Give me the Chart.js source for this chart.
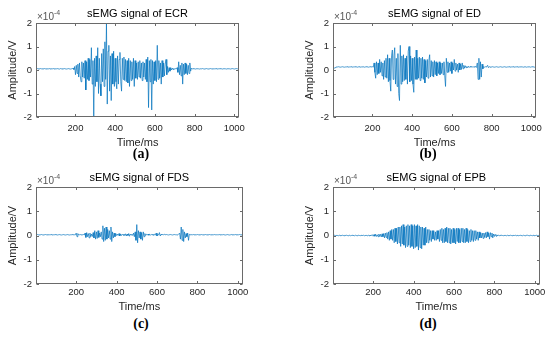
<!DOCTYPE html>
<html lang="en">

<head>
    <meta charset="UTF-8">
    <title>sEMG signals</title>
    <script src="https://cdn.jsdelivr.net/npm/chart.js@4.4.0/dist/chart.umd.min.js"></script>
    <style>
        body {
            margin: 0;
            width: 550px;
            height: 337px;
            background: #fff;
            position: relative;
            overflow: hidden;
        }

        .panel {
            position: absolute;
        }

        .caption {
            position: absolute;
            width: 60px;
            text-align: center;
            font: bold 14px "Liberation Serif", "DejaVu Serif", serif;
            color: #000;
        }
    </style>
</head>

<body>
    <div class="panel" style="left:0px;top:0px"><canvas id="chartA" width="251" height="151"></canvas></div>
    <div class="panel" style="left:297px;top:0px"><canvas id="chartB" width="251" height="151"></canvas></div>
    <div class="panel" style="left:0px;top:164px"><canvas id="chartC" width="251" height="151"></canvas></div>
    <div class="panel" style="left:297px;top:164px"><canvas id="chartD" width="251" height="151"></canvas></div>
    <div class="caption" style="left:111px;top:146px">(a)</div>
    <div class="caption" style="left:398px;top:146px">(b)</div>
    <div class="caption" style="left:111px;top:316px">(c)</div>
    <div class="caption" style="left:398px;top:316px">(d)</div>
    <script>
        // sample spacing of the recordings (ms)
        const sampleStep = 4;

        // tick labels
        const xTickValues = [200, 400, 600, 800, 1000];
        const yTickValues = [-2, -1, 0, 1, 2];

        // panel titles
        const titles = ['sEMG signal of ECR', 'sEMG signal of ED', 'sEMG signal of FDS', 'sEMG signal of EPB'];

        // amplitudes in units of 1e-4 V, one value every 4 ms
        const ecr = [
            0.05, 0.06, 0.05, 0.04, 0.05, 0.06, 0.05, 0.05, 0.04, 0.05, 0.06, 0.05, 0.05, 0.04, 0.05, 0.05,
            0.06, 0.05, 0.04, 0.05, 0.05, 0.06, 0.05, 0.04, 0.05, 0.05, 0.06, 0.05, 0.05, 0.04, 0.06, 0.05,
            0.05, 0.04, 0.05, 0.06, 0.05, 0.05, 0.04, 0.05, 0.06, 0.05, 0.05, 0.04, 0.05, 0.06, 0.08, 0.02,
            0.15, -0.2, 0.2, -0.15, 0.25, -0.3, 0.3, -0.25, -0.5, 0.35, -0.3, 0.3, -0.35, 0.4, -0.85, 0.35,
            -0.4, 0.5, -0.45, 0.45, -0.3, 0.95, -0.6, 0.4, -2.0, 0.5, -0.7, 0.6, -0.5, 0.95, -1.0, 0.5,
            -0.6, -1.1, 0.7, -0.5, 0.9, -0.7, 1.2, -0.4, 2.0, -1.45, 0.8, 1.05, -0.9, 0.6, -1.3, 0.7,
            -0.6, 0.8, -0.7, 0.5, -0.5, -0.8, 0.6, -0.6, 0.45, 0.75, -0.5, -0.9, 0.5, -0.4, 0.55, -0.45,
            0.45, -0.5, 0.4, -0.55, 0.5, -0.7, 0.4, -0.45, 0.35, -0.4, 0.5, -0.7, 0.4, -0.35, 0.3, -0.4,
            0.35, -0.3, 0.4, -0.35, 0.3, -0.45, 0.35, -0.3, 0.3, -0.4, 0.45, -0.5, 0.55, -1.6, 0.4, -0.5,
            0.45, -1.7, 0.4, -0.6, 0.35, -0.45, 0.4, -0.5, 1.05, -0.4, 0.4, -0.35, 0.3, -0.6, 0.4, -0.3,
            0.3, -0.25, 0.25, 0.45, -0.2, 0.15, -0.1, 0.1, -0.05, 0.1, 0.0, 0.08, 0.02, 0.07, 0.03, 0.06,
            0.05, 0.1, -0.1, 0.35, -0.2, 0.2, -0.25, 0.3, -0.6, 0.25, -0.2, 0.3, -0.15, 0.25, -0.2, 0.2,
            -0.15, 0.3, -0.05, 0.08, 0.04, 0.06, 0.05, 0.05, 0.04, 0.05, 0.06, 0.05, 0.05, 0.04, 0.05, 0.05,
            0.05, 0.06, 0.05, 0.04, 0.05, 0.05, 0.06, 0.05, 0.04, 0.05, 0.05, 0.06, 0.05, 0.05, 0.04, 0.05,
            0.05, 0.05, 0.06, 0.05, 0.04, 0.05, 0.05, 0.06, 0.05, 0.05, 0.04, 0.05, 0.06, 0.05, 0.05, 0.04,
            0.05, 0.06, 0.05, 0.05, 0.04, 0.05, 0.05, 0.06, 0.05, 0.04, 0.05, 0.05, 0.06, 0.05, 0.05, 0.05
        ];

        const ed = [
            0.05, 0.08, 0.1, 0.12, 0.13, 0.13, 0.14, 0.13, 0.13, 0.12, 0.13, 0.14, 0.13, 0.13, 0.12, 0.13,
            0.13, 0.14, 0.13, 0.12, 0.13, 0.13, 0.14, 0.13, 0.12, 0.13, 0.13, 0.14, 0.13, 0.13, 0.12, 0.13,
            0.14, 0.13, 0.12, 0.13, 0.13, 0.14, 0.13, 0.12, 0.13, 0.14, 0.13, 0.13, 0.12, 0.13, 0.14, 0.13,
            0.13, 0.14, 0.12, 0.3, -0.1, -0.35, 0.35, -0.2, 0.3, -0.15, 0.45, -0.1, 0.35, -0.25, 0.3, -0.4,
            0.4, -0.3, 0.5, -0.35, 0.65, -0.5, 0.5, -0.45, -0.9, 0.6, 0.85, -0.4, 0.6, 0.95, -0.6, 0.5,
            -0.7, 0.7, -1.0, -1.3, 1.05, -0.6, 0.6, -0.5, 0.65, -0.45, 0.5, -0.4, 0.6, -0.6, 0.8, 1.0,
            -0.5, 0.6, -0.45, 0.5, -0.6, -0.95, 0.55, -0.4, 0.85, -0.4, 0.5, -0.35, 0.55, -0.45, 0.5, -0.35,
            0.55, -0.4, 0.45, -0.55, 0.4, -0.3, 0.45, -0.35, 0.4, 0.65, -0.3, 0.4, -0.25, 0.35, -0.3, 0.4,
            -0.2, 0.35, -0.25, 0.3, -0.15, 0.35, -0.2, 0.3, -0.15, 0.3, -0.2, 0.35, -0.25, -0.7, 0.5, -0.1,
            0.35, -0.1, 0.3, -0.05, 0.35, -0.15, 0.3, 0.0, 0.45, -0.05, 0.3, 0.0, 0.25, -0.1, 0.3, 0.0,
            0.25, 0.02, 0.3, 0.05, 0.2, 0.08, 0.18, 0.1, 0.15, 0.1, 0.16, 0.11, 0.15, 0.12, 0.14, 0.13,
            0.13, 0.14, 0.12, 0.15, 0.11, 0.3, -0.4, 0.5, -0.4, 0.35, -0.3, 0.25, 0.05, 0.15, 0.12, 0.14,
            0.13, 0.16, 0.2, 0.1, 0.14, 0.13, 0.12, 0.13, 0.14, 0.13, 0.13, 0.12, 0.13, 0.14, 0.13, 0.13,
            0.12, 0.13, 0.14, 0.13, 0.13, 0.12, 0.13, 0.14, 0.13, 0.13, 0.12, 0.13, 0.13, 0.14, 0.13, 0.12,
            0.13, 0.13, 0.14, 0.13, 0.12, 0.13, 0.13, 0.14, 0.13, 0.12, 0.13, 0.13, 0.14, 0.13, 0.13, 0.12,
            0.13, 0.14, 0.13, 0.12, 0.13, 0.13, 0.14, 0.13, 0.12, 0.13, 0.14, 0.13, 0.13, 0.12, 0.13, 0.13
        ];

        const fds = [
            0.03, 0.04, 0.03, 0.02, 0.03, 0.03, 0.04, 0.03, 0.02, 0.03, 0.03, 0.04, 0.03, 0.03, 0.02, 0.03,
            0.03, 0.03, 0.04, 0.03, 0.02, 0.03, 0.03, 0.04, 0.03, 0.03, 0.02, 0.03, 0.04, 0.03, 0.03, 0.02,
            0.03, 0.04, 0.03, 0.03, 0.02, 0.03, 0.04, 0.03, 0.03, 0.02, 0.03, 0.03, 0.04, 0.03, 0.03, 0.03,
            0.03, 0.1, -0.05, 0.08, 0.02, 0.03, 0.04, 0.03, 0.02, 0.03, 0.04, 0.02, 0.1, -0.08, 0.12, -0.05,
            0.08, -0.1, 0.1, -0.05, 0.06, -0.04, 0.12, -0.1, 0.2, -0.15, 0.15, -0.12, 0.2, -0.08, 0.1, -0.05,
            0.15, -0.15, 0.4, -0.25, 0.3, -0.2, 0.35, -0.15, 0.25, -0.1, 0.2, -0.15, 0.35, -0.25, 0.15, -0.1,
            0.1, -0.05, 0.08, 0.0, 0.06, 0.0, 0.08, -0.02, 0.06, 0.0, 0.05, 0.01, 0.06, 0.0, 0.07, -0.02,
            0.06, 0.0, 0.08, -0.03, 0.06, 0.02, 0.05, 0.0, 0.1, -0.05, 0.15, -0.2, 0.45, -0.3, 0.2, -0.1,
            0.15, -0.15, 0.12, -0.2, 0.15, -0.05, 0.08, 0.0, 0.05, 0.02, 0.06, 0.01, 0.05, 0.02, 0.04, 0.03,
            0.06, 0.0, 0.05, 0.02, 0.1, -0.02, 0.05, 0.02, 0.12, -0.02, 0.05, 0.03, 0.04, 0.03, 0.05, 0.03,
            0.03, 0.04, 0.03, 0.02, 0.03, 0.03, 0.04, 0.03, 0.02, 0.03, 0.03, 0.04, 0.03, 0.03, 0.02, 0.03,
            0.03, 0.1, -0.15, 0.35, -0.2, 0.25, -0.25, 0.15, -0.1, 0.08, -0.05, 0.1, -0.2, 0.05, 0.03, 0.04,
            0.03, 0.03, 0.04, 0.03, 0.02, 0.03, 0.03, 0.04, 0.03, 0.03, 0.02, 0.03, 0.04, 0.03, 0.03, 0.02,
            0.03, 0.04, 0.03, 0.03, 0.02, 0.03, 0.04, 0.03, 0.03, 0.02, 0.03, 0.03, 0.04, 0.03, 0.03, 0.03,
            0.03, 0.03, 0.04, 0.03, 0.02, 0.03, 0.03, 0.04, 0.03, 0.03, 0.02, 0.03, 0.04, 0.03, 0.03, 0.02,
            0.03, 0.04, 0.03, 0.02, 0.03, 0.03, 0.04, 0.03, 0.02, 0.03, 0.03, 0.04, 0.03, 0.03, 0.02, 0.03
        ];

        const epb = [
            0.0, 0.01, -0.01, 0.0, 0.01, 0.0, -0.01, 0.01, 0.0, -0.01, 0.0, 0.01, 0.0, -0.01, 0.01, 0.0,
            0.01, 0.0, -0.01, 0.0, 0.01, -0.01, 0.0, 0.01, 0.0, 0.0, -0.01, 0.01, 0.0, -0.01, 0.0, 0.01,
            0.0, -0.01, 0.01, 0.0, 0.0, 0.01, -0.01, 0.0, 0.01, 0.0, -0.02, 0.02, -0.01, 0.02, -0.02, 0.02,
            0.03, -0.03, 0.04, -0.03, 0.05, -0.04, 0.03, -0.05, 0.06, -0.04, 0.05, -0.06, 0.07, -0.05, 0.08, -0.1,
            0.1, -0.08, 0.12, -0.15, 0.15, -0.2, 0.2, -0.15, 0.25, -0.2, 0.25, -0.3, 0.3, -0.25, 0.3, -0.35,
            0.35, -0.3, 0.35, -0.45, 0.4, -0.35, 0.45, -0.4, 0.35, -0.5, 0.4, -0.45, 0.45, -0.4, 0.4, -0.5,
            0.45, -0.45, 0.4, -0.55, 0.45, -0.5, 0.4, -0.45, 0.45, -0.6, 0.4, -0.5, 0.35, -0.55, 0.35, -0.4,
            0.3, -0.4, 0.35, -0.3, 0.25, -0.3, 0.25, -0.2, 0.2, -0.25, 0.2, -0.15, 0.2, -0.2, 0.15, -0.2,
            0.2, -0.15, 0.2, -0.25, 0.25, -0.2, 0.3, -0.3, 0.25, -0.3, 0.3, -0.25, 0.35, -0.3, 0.3, -0.3,
            0.3, -0.35, 0.25, -0.3, 0.3, -0.3, 0.25, -0.35, 0.3, -0.25, 0.3, -0.3, 0.25, -0.3, 0.3, -0.25,
            0.3, -0.3, 0.25, -0.3, 0.3, -0.25, 0.25, -0.3, 0.2, -0.25, 0.25, -0.2, 0.2, -0.25, 0.2, -0.2,
            0.2, -0.15, 0.15, -0.2, 0.15, -0.1, 0.12, -0.1, 0.1, -0.12, 0.1, -0.08, 0.12, -0.1, 0.15, -0.05,
            0.1, -0.15, 0.12, -0.05, 0.1, -0.1, 0.06, -0.04, 0.05, -0.03, 0.03, -0.02, 0.02, -0.01, 0.01, 0.0,
            0.01, 0.0, -0.01, 0.0, 0.01, 0.0, -0.01, 0.01, 0.0, -0.01, 0.0, 0.01, 0.0, -0.01, 0.01, 0.0,
            0.0, 0.01, -0.01, 0.0, 0.01, -0.01, 0.0, 0.01, 0.0, 0.0, -0.01, 0.01, 0.0, -0.01, 0.0, 0.01,
            0.01, 0.0, -0.01, 0.0, 0.01, 0.0, -0.01, 0.01, 0.0, -0.01, 0.0, 0.01, 0.0, -0.01, 0.01, 0.0
        ];

        const FONT = '"Liberation Sans", Arial, Helvetica, sans-serif';
        const TEXT = '#262626';
        const LINE = '#0072BD';

        // MATLAB-style box, inward ticks, title and the x10^-4 exponent
        const matlabAxes = {
            id: 'matlabAxes',
            afterDraw(chart, args, opts) {
                const { ctx, chartArea: a, scales } = chart;
                ctx.save();
                ctx.strokeStyle = '#6a6a6a';
                ctx.lineWidth = 1;
                const L = Math.round(a.left) + 0.5, R = Math.round(a.right) - 0.5;
                const T = Math.round(a.top) + 0.5, B = Math.round(a.bottom) - 0.5;
                ctx.strokeRect(L, T, R - L, B - T);
                ctx.beginPath();
                xTickValues.forEach(v => {
                    const x = Math.round(scales.x.getPixelForValue(v)) + 0.5;
                    ctx.moveTo(x, B); ctx.lineTo(x, B - 2.5);
                    ctx.moveTo(x, T); ctx.lineTo(x, T + 2.5);
                });
                yTickValues.forEach(v => {
                    const y = Math.round(scales.y.getPixelForValue(v)) + 0.5;
                    ctx.moveTo(L, y); ctx.lineTo(L + 2.5, y);
                    ctx.moveTo(R, y); ctx.lineTo(R - 2.5, y);
                });
                ctx.stroke();

                ctx.fillStyle = '#000';
                ctx.textAlign = 'center';
                ctx.textBaseline = 'middle';
                ctx.font = '11px ' + FONT;
                ctx.fillText(opts.title, (a.left + a.right) / 2, a.top - 9);

                ctx.fillStyle = '#555';
                ctx.textAlign = 'left';
                ctx.font = '10px ' + FONT;
                ctx.fillText('\u00d710', a.left + 1, a.top - 5.5);
                const w = ctx.measureText('\u00d710').width;
                ctx.font = '7px ' + FONT;
                ctx.fillText('-4', a.left + 1 + w, a.top - 9.5);
                ctx.restore();
            }
        };

        // row: 0 = top row, 1 = bottom row (its tick labels sit closer to the box)
        function makeChart(id, values, title, row) {
            const points = values.map((v, i) => ({ x: (i + 1) * sampleStep, y: v }));
            return new Chart(document.getElementById(id), {
                type: 'line',
                data: {
                    datasets: [{
                        data: points,
                        borderColor: LINE,
                        borderWidth: 0.7,
                        pointRadius: 0,
                        tension: 0,
                        fill: false
                    }]
                },
                options: {
                    responsive: false,
                    animation: false,
                    devicePixelRatio: 1,
                    layout: { padding: { top: 23, right: 6, left: 0, bottom: 0 } },
                    plugins: {
                        legend: { display: false },
                        tooltip: { enabled: false },
                        matlabAxes: { title: title }
                    },
                    scales: {
                        x: {
                            type: 'linear',
                            min: 1,
                            max: 1024,
                            afterBuildTicks: s => { s.ticks = xTickValues.map(v => ({ value: v })); },
                            afterFit: s => { s.height = row === 0 ? 34 : 31; },
                            grid: { display: false, drawTicks: false },
                            border: { display: false },
                            ticks: {
                                padding: row === 0 ? 6 : 2.5,
                                color: TEXT,
                                font: { family: FONT, size: 9.5 },
                                maxRotation: 0,
                                callback: v => String(v)
                            },
                            title: {
                                display: true,
                                text: 'Time/ms',
                                color: TEXT,
                                font: { family: FONT, size: 11 },
                                padding: { top: 0, bottom: 1 }
                            }
                        },
                        y: {
                            min: -2,
                            max: 2,
                            afterBuildTicks: s => { s.ticks = yTickValues.map(v => ({ value: v })); },
                            afterFit: s => { s.width = 36; },
                            grid: { display: false, drawTicks: false },
                            border: { display: false },
                            ticks: {
                                padding: 4,
                                color: TEXT,
                                font: { family: FONT, size: 9.5 },
                                callback: v => String(v)
                            },
                            title: {
                                display: true,
                                text: 'Amplitude/V',
                                color: TEXT,
                                font: { family: FONT, size: 11 },
                                padding: { top: 6, bottom: 0 }
                            }
                        }
                    }
                },
                plugins: [matlabAxes]
            });
        }

        makeChart('chartA', ecr, titles[0], 0);
        makeChart('chartB', ed, titles[1], 0);
        makeChart('chartC', fds, titles[2], 1);
        makeChart('chartD', epb, titles[3], 1);
    </script>
</body>

</html>
